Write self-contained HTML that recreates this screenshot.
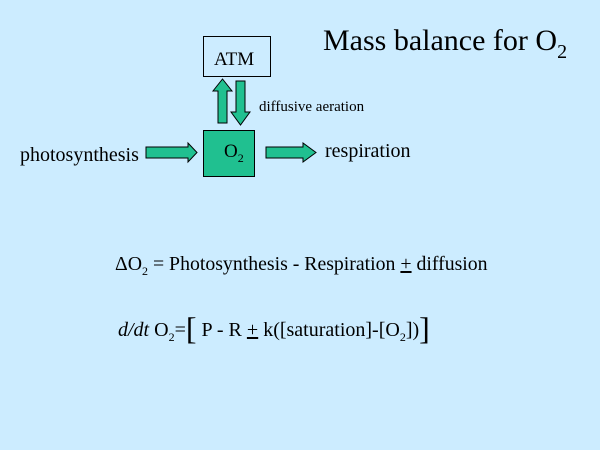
<!DOCTYPE html>
<html><head><style>
body{margin:0;background:#CCECFF;}
svg{display:block}
text{font-family:"Liberation Serif",serif;fill:#000}
</style></head><body>
<svg width="600" height="450" viewBox="0 0 600 450">
<rect width="600" height="450" fill="#CCECFF"/>
<text x="323" y="50" font-size="30">Mass balance for O<tspan font-size="20" dy="8">2</tspan></text>
<rect x="203.5" y="36.5" width="67" height="40" fill="none" stroke="#000" stroke-width="1"/>
<text x="214" y="65" font-size="19">ATM</text>
<g fill="#20C090" stroke="#000" stroke-width="1">
<polygon points="218,123 227,123 227,91 232,91 222.5,79 213,91 218,91"/>
<polygon points="236,81 245,81 245,112 250,112 240.5,125 231,112 236,112"/>
<rect x="203.5" y="130.5" width="51" height="46"/>
<polygon points="146,147 188,147 188,143 197,152.5 188,162 188,158 146,158"/>
<polygon points="266,147 303,147 303,143 316,152.5 303,162 303,158 266,158"/>
</g>
<text x="224" y="157" font-size="19">O<tspan font-size="12" dy="5">2</tspan></text>
<text x="259" y="111" font-size="15">diffusive aeration</text>
<text x="20" y="161" font-size="20">photosynthesis</text>
<text x="325" y="157" font-size="20">respiration</text>
<text x="115" y="270" font-size="19.8">ΔO<tspan font-size="12" dy="5">2</tspan><tspan dy="-5"> = Photosynthesis - Respiration </tspan><tspan text-decoration="underline">+</tspan> diffusion</text>
<text x="118" y="336" font-size="20"><tspan font-style="italic">d/dt</tspan> O<tspan font-size="12" dy="5">2</tspan><tspan dy="-5">=</tspan><tspan font-size="32" dy="3">[</tspan><tspan dy="-3"> P - R </tspan><tspan text-decoration="underline">+</tspan> k([saturation]-[O<tspan font-size="12" dy="5">2</tspan><tspan dy="-5">])</tspan><tspan font-size="32" dy="3">]</tspan></text>
</svg>
</body></html>
